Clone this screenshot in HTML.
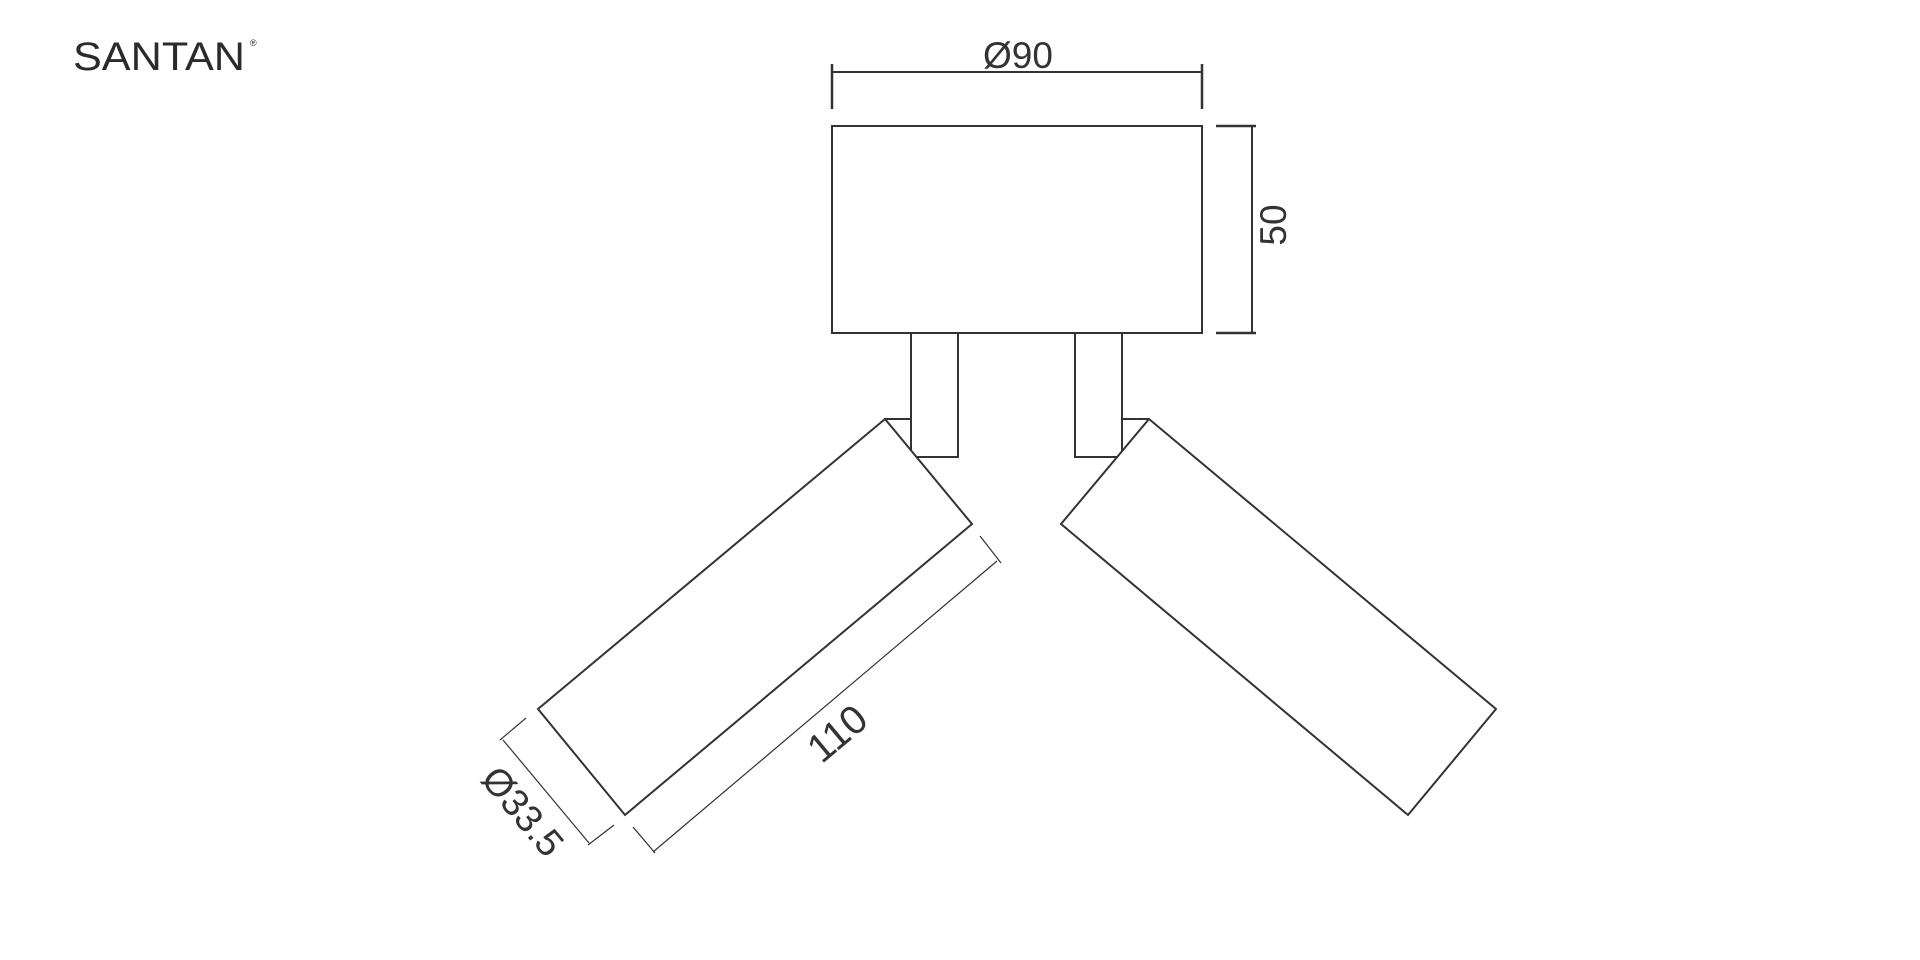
<!DOCTYPE html>
<html><head><meta charset="utf-8"><style>
html,body{margin:0;padding:0;background:#fff;}
svg{display:block;}
</style></head><body>
<svg width="1920" height="960" viewBox="0 0 1920 960" xmlns="http://www.w3.org/2000/svg">
<g font-family="Liberation Sans, sans-serif" fill="#2b2b2b">
<text x="73" y="70" font-size="40" textLength="172" lengthAdjust="spacingAndGlyphs">SANTAN</text>
<text x="250" y="46" font-size="9">®</text>
</g>
<g fill="none" stroke="#333" stroke-width="2">
<rect x="832" y="126" width="370" height="207"/>
<polyline points="911,333 911,457 958,457 958,333"/>
<polyline points="1075,333 1075,457 1122,457 1122,333"/>
<line x1="884" y1="419" x2="911" y2="419"/>
<line x1="1122" y1="419" x2="1149" y2="419"/>
<polygon points="885,419 972,524 625,815 538,709" fill="#fff"/>
<polygon points="1149,419 1061,524 1408,815 1496,709" fill="#fff"/>
<line x1="832" y1="64" x2="832" y2="109" stroke-width="2.5"/>
<line x1="1202" y1="64" x2="1202" y2="109" stroke-width="2.5"/>
<line x1="832" y1="72" x2="1202" y2="72"/>
<line x1="1252" y1="126" x2="1252" y2="333"/>
<line x1="1216" y1="126" x2="1256" y2="126" stroke-width="2.5"/>
<line x1="1216" y1="333" x2="1256" y2="333" stroke-width="2.5"/>
</g>
<g fill="none" stroke="#333" stroke-width="1.2">
<line x1="980" y1="536" x2="1001" y2="563"/>
<line x1="997" y1="561" x2="653" y2="852"/>
<line x1="633" y1="827" x2="655" y2="853"/>
<line x1="526" y1="718" x2="500" y2="740"/>
<line x1="503" y1="740" x2="589" y2="843"/>
<line x1="614" y1="825" x2="588" y2="845"/>
</g>
<g font-family="Liberation Sans, sans-serif" font-size="37" fill="#333" text-anchor="middle">
<text x="1018" y="68">Ø90</text>
<text transform="translate(1286,225) rotate(-90)">50</text>
<text transform="translate(846,744) rotate(-40)" font-size="40">110</text>
<text transform="translate(522,812) rotate(50)" dy="12" font-size="38">Ø33.5</text>
</g>
</svg>
</body></html>
